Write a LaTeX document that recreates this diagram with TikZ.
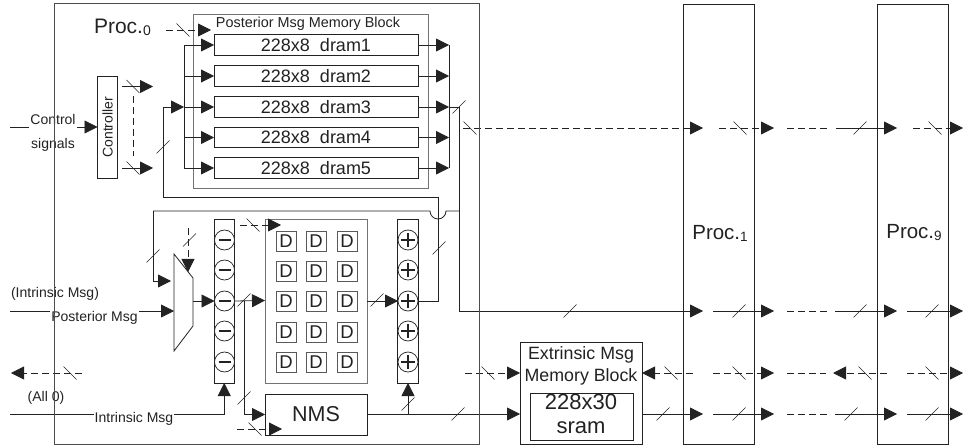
\documentclass[tikz,border=0pt]{standalone}
\usepackage{fontspec}
\setmainfont{Liberation Sans}
\usetikzlibrary{arrows.meta,calc}
\definecolor{ink}{HTML}{222222}
\tikzset{
  x=1pt,y=-1pt,
  every node/.style={text=ink,inner sep=0pt,outer sep=0pt},
  wire/.style={draw=ink,line width=0.8pt},
  arr/.style={wire,-{Triangle[length=13pt,width=13pt,fill=ink]}},
  darr/.style={arr,dash pattern=on 7pt off 4pt},
  dline/.style={wire,dash pattern=on 7pt off 4pt},
  tick/.style={draw=ink,line width=0.5pt},
  box/.style={draw=ink,line width=0.8pt,fill=white},
  greybox/.style={draw=black!55,line width=1pt,fill=white},
  dram/.style={box,minimum width=204pt,minimum height=20.5pt,font=\fontsize{18}{20}\selectfont},
  dcell/.style={box,draw=black!65,minimum width=20pt,minimum height=20pt,font=\fontsize{18.5}{20}\selectfont},
  opc/.style={circle,draw=ink,line width=0.7pt,fill=white,minimum size=20pt},
  lab/.style={font=\fontsize{14}{16}\selectfont},
  wlab/.style={lab,fill=white,inner xsep=1pt,inner ysep=2pt},
  proc/.style={draw=ink,line width=0.8pt,minimum width=71pt,minimum height=440pt}
}
\newcommand{\fs}[2]{\draw[tick] (#1-6.5,#2+6.5) -- (#1+6.5,#2-6.5);}
\newcommand{\bs}[2]{\draw[tick] (#1-6.5,#2-6.5) -- (#1+6.5,#2+6.5);}
\begin{document}
\begin{tikzpicture}
\useasboundingbox (0,0) rectangle (963,446);
% posterior memory block
\node[greybox,minimum width=234.5pt,minimum height=174.5pt] (pblock) at (310.75,101.75) {};
\node[font=\fontsize{14.4}{16}\selectfont] (ptitle) at (308,24) {Posterior Msg Memory Block};
\node[dram] (d1) at (316,45) {228x8\ \ dram1};
\node[dram] (d2) at (316,76) {228x8\ \ dram2};
\node[dram] (d3) at (316,107) {228x8\ \ dram3};
\node[dram] (d4) at (316,137.5) {228x8\ \ dram4};
\node[dram] (d5) at (316,168) {228x8\ \ dram5};
\node[font=\fontsize{21}{23}\selectfont,anchor=west] (p0) at (94,27) {Proc.\raisebox{-2pt}{\fontsize{14}{15}\selectfont 0}};
% input bus
\coordinate (bl1) at (184,45);
\coordinate (bl5) at (184,168);
\coordinate (bl3) at (184,107);
\coordinate (br1) at (449,45);
\coordinate (br3) at (449,107);
\coordinate (br5) at (449,168);
\draw[wire] (bl1) -- (bl5);
\draw[wire] (br1) -- (br5);
\foreach \n in {1,...,5}{
  \draw[arr] (d\n.west -| bl1) -- (d\n.west);
  \draw[arr] (d\n.east) -- (d\n.east -| br1);
}
% top dashed input
\coordinate (topin) at (166,30);
\draw[darr] (topin) -- (211,30);
\bs{183}{30}
% Controller
\node[box,minimum width=20pt,minimum height=101.5pt] (ctrl) at (107.5,127.25) {};
\node[lab,rotate=90] (ctrltxt) at (ctrl.center) {Controller};
\coordinate (cin) at (10,127);
\draw[arr] (cin) -- (ctrl.west |- cin);
\node[wlab,minimum height=18pt] (control) at (53,119.5) {Control};
\node[lab] (signals) at (53,145) {signals};
\coordinate (c1) at (122,86.5);
\coordinate (c2) at (122,168);
\draw[arr] (c1) -- ++(31,0);
\draw[arr] (c2) -- ++(31,0);
\bs{133}{86.5}
\bs{133}{168}
\draw[dline] (133,96) -- (133,156);
% feedback into memories
\coordinate (j3) at (459,107);
\coordinate (sum) at (438,197);
\coordinate (fbl) at (163.5,197);
\draw[wire] (br3) -- (j3);
\draw[arr] (sum) -- (fbl) |- (bl3);
\fs{163}{147}
\fs{459}{107}
% proc boxes
\node[proc] (p1) at (718.5,224) {};
\node[proc] (p9) at (913,224) {};
\node[font=\fontsize{20.5}{22}\selectfont] (p1t) at (720,233) {Proc.\raisebox{-2pt}{\fontsize{13.5}{14}\selectfont 1}};
\node[font=\fontsize{20.5}{22}\selectfont] (p9t) at (914,233) {Proc.\raisebox{-2pt}{\fontsize{13.5}{14}\selectfont 9}};
% D grid
\node[greybox,minimum width=102pt,minimum height=163.5pt] (dgrid) at (316,301.25) {};
\foreach \r/\yy in {1/241,2/271,3/301,4/332,5/362}{
  \foreach \c/\xx in {1/286,2/316,3/347}{
    \node[dcell] (dd\r\c) at (\xx,\yy) {D};
  }
}
% minus / plus columns
\node[box,minimum width=20.5pt,minimum height=163.5pt] (mcol) at (224.25,301.25) {};
\node[box,minimum width=20.5pt,minimum height=163.5pt] (pcol) at (408,301.25) {};
\foreach \r/\yy in {1/240,2/270,3/301,4/331,5/362}{
  \node[opc] (m\r) at (224.5,\yy) {};
  \draw[ink,line width=2.2pt] ($(m\r.center)+(-6,0)$) -- ($(m\r.center)+(6,0)$);
  \node[opc] (a\r) at (408,\yy) {};
  \draw[ink,line width=2.2pt] ($(a\r.center)+(-7,0)$) -- ($(a\r.center)+(7,0)$);
  \draw[ink,line width=2.2pt] ($(a\r.center)+(0,-7)$) -- ($(a\r.center)+(0,7)$);
}
% mux
\draw[wire,fill=white] (174,254) coordinate (mx1) -- (193,278) coordinate (mx2) -- (193,326) coordinate (mx3) -- (174,351) coordinate (mx4) -- cycle;
\coordinate (muxout) at (193,301);
\coordinate (muxin) at (174,311);
\coordinate (muxtop) at (171,281);
% left labels and inputs
\coordinate (pin) at (10,311);
\draw[arr] (pin) -- (muxin);
\node[wlab] (post) at (94.5,317.5) {Posterior Msg};
\node[lab] (imsg) at (55,294) {(Intrinsic Msg)};
\coordinate (iin) at (10,414);
\draw[arr] (iin) -| (mcol.south);
\node[wlab] (intr) at (134,419) {Intrinsic Msg};
\node[lab] (all0) at (46,398) {(All 0)};
\coordinate (lout) at (82,373);
\draw[darr] (lout) -- (11,373);
\bs{70}{373}
% mux connections
\coordinate (ftop) at (153,211);
\draw[arr] (ftop) |- (muxtop);
\fs{153}{256}
\draw[darr] (188,228) -- (188,272);
\fs{189.5}{240}
\draw[arr] (muxout) -- (m3.west);
% top dashed to D grid
\draw[darr] (240,225) -- (281,225);
\bs{253}{225}
% minus to D
\coordinate (tj) at (244,300.5);
\draw[arr] (m3.east) -- (dgrid.west |- tj);
\fs{244}{300}
% NMS
\node[box,minimum width=102pt,minimum height=41pt,font=\fontsize{21.5}{23}\selectfont] (nms) at (316,414.5) {NMS};
\draw[arr] (tj) |- (nms.west);
\fs{244}{398}
\draw[darr] (237,429) -- (282,429);
\bs{255}{429}
% D to plus
\coordinate (dout) at (dgrid.east |- a3);
\draw[arr] (dout) -- (a3.west);
\fs{377}{300}
% plus to feedback
\draw[wire] (a3.east) -| (sum);
\fs{439}{248}
\draw[wire] (ftop) -- (430,211) arc[start angle=180,end angle=0,radius=8] -- (459,211);
% Extrinsic block
\node[box,minimum width=122pt,minimum height=102pt] (eblock) at (581,393) {};
\node[font=\fontsize{17.8}{19}\selectfont] (e1) at (581,355) {Extrinsic Msg};
\node[font=\fontsize{17.8}{19}\selectfont] (e2) at (581,377) {Memory Block};
\node[box,minimum width=103pt,minimum height=47pt] (sram) at (581.5,416.5) {};
\node[font=\fontsize{22}{24}\selectfont] (s1) at (581,402) {228x30};
\node[font=\fontsize{22}{24}\selectfont] (s2) at (581,428) {sram};
% vertical right of memory, row y=311
\coordinate (r2) at (459,311);
\draw[wire] (j3) -- (r2);
\draw[arr] (r2) -- (703,311);
\fs{570}{311}
% NMS to plus and extrinsic
\coordinate (nj) at (408,414);
\draw[arr] (nms.east |- nj) -- (eblock.west |- nj);
\draw[arr] (nj) -- (pcol.south);
\fs{408}{404}
\fs{458}{414}
% row y=128
\coordinate (r1) at (463,128);
\draw[darr] (r1) -- (703,128);
\bs{470}{128}
\draw[darr] (719,128) -- (774,128);
\bs{740}{128}
\draw[dline] (787,128) -- (827,128);
\draw[arr] (836,128) -- (897,128);
\fs{860}{128}
\draw[darr] (913,128) -- (963,128);
\bs{935}{128}
% row y=311 cont.
\draw[arr] (713,311) -- (774,311);
\fs{739}{311}
\draw[dline] (787,311) -- (827,311);
\draw[arr] (835,311) -- (897,311);
\fs{860}{311}
\draw[arr] (907,311) -- (963,311);
\fs{932}{311}
% row y=373
\coordinate (r3) at (465,373);
\draw[darr] (r3) -- (eblock.west |- r3);
\bs{488}{373}
\draw[darr] (693,373) -- (eblock.east |- r3);
\bs{671}{373}
\draw[darr] (713,373) -- (774,373);
\bs{739}{373}
\draw[dline] (787,373) -- (826,373);
\draw[darr] (887,373) -- (833,373);
\bs{865}{373}
\draw[darr] (907,373) -- (963,373);
\bs{932}{373}
% row y=414
\coordinate (r4) at (eblock.east |- nj);
\draw[arr] (r4) -- (703,414);
\fs{663}{414}
\draw[arr] (713,414) -- (774,414);
\fs{739}{414}
\draw[dline] (787,414) -- (827,414);
\draw[arr] (835,414) -- (897,414);
\fs{851}{414}
\draw[arr] (907,414) -- (963,414);
\fs{932}{414}
% main frame on top
\node[draw=black!70,line width=1pt,minimum width=424.5pt,minimum height=440pt] (p00) at (266.75,224) {};
\end{tikzpicture}
\end{document}
